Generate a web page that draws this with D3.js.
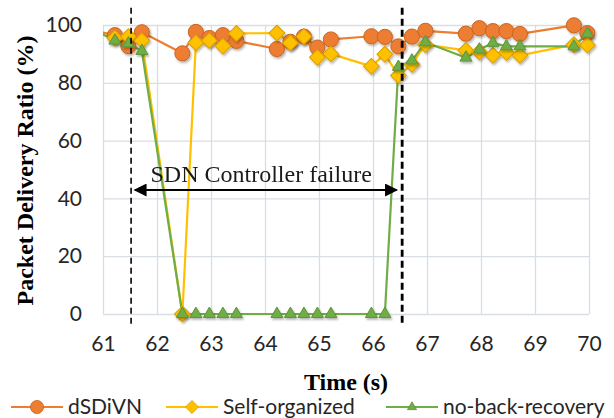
<!DOCTYPE html>
<html>
<head>
<meta charset="utf-8">
<script src="https://cdn.jsdelivr.net/npm/d3@7"></script>
<style>
  html, body { margin: 0; padding: 0; background: #fff; }
  svg { display: block; }
</style>
</head>
<body>
<svg id="chart" width="614" height="418"></svg>
<script>
// ---- data ----
const times = [60.97, 61.22, 61.47, 61.72, 62.47, 62.72, 62.97, 63.22, 63.47, 64.22, 64.47, 64.72, 64.97, 65.22, 65.97, 66.22, 66.47, 66.72, 66.97, 67.72, 67.97, 68.22, 68.47, 68.72, 69.72, 69.97];
const dSDiVN = [97.5, 96.5, 92.7, 97.5, 90.2, 97.6, 95.5, 96.5, 94.5, 91.7, 94.2, 96.0, 92.2, 95.0, 96.1, 95.9, 92.6, 96.0, 98.0, 97.0, 98.9, 97.9, 97.9, 96.9, 99.9, 97.2];
const selfOrganized = [97.0, 95.5, 96.0, 94.6, 0, 93.9, 94.6, 92.7, 97.1, 97.2, 93.8, 96.0, 88.8, 90.0, 85.7, 89.9, 82.5, 86.4, 93.2, 91.2, 90.7, 89.5, 90.5, 89.5, 93.2, 93.1];
const noBackRecovery = [97.0, 94.6, 93.6, 91.0, 0, 0, 0, 0, 0, 0, 0, 0, 0, 0, 0, 0, 85.5, 87.7, 94.0, 88.7, 91.5, 93.8, 92.6, 92.6, 92.6, 97.0];
const seriesNames = ["dSDiVN", "Self-organized", "no-back-recovery"];
const xTicks = [61, 62, 63, 64, 65, 66, 67, 68, 69, 70];
const yTicks = [0, 20, 40, 60, 80, 100];
const failureBounds = [61.52, 66.54];   // dashed markers (s)
const arrowSpan = [61.59, 66.44];       // double arrow (s)
const arrowLevel = 42.9;                // arrow height (%)
const annotationText = "SDN Controller failure";
const annotationAt = [61.88, 45.8];     // text start (s, %)
const xTitle = "Time (s)";
const yTitle = "Packet Delivery Ratio (%)";

(function () {
// ---- layout ----
const svg = d3.select("#chart");
const pL = 103, pR = 589, pT = 25, pB = 314;
const x = d3.scaleLinear().domain([61, 70]).range([pL, pR]);
const y = d3.scaleLinear().domain([0, 100]).range([pB, pT]);
const tickFont = "Lato, 'Open Sans', sans-serif";
const serif = "'Liberation Serif', 'Times New Roman', serif";
const colors = ["#ED7D31", "#FFC000", "#70AD47"];
const strokes = ["#C9631F", "#D9A000", "#5A9538"];

const defs = svg.append("defs");
defs.append("clipPath").attr("id", "plotClip")
  .append("rect").attr("x", pL).attr("y", 0).attr("width", pR - pL).attr("height", 418);
const sh = defs.append("filter").attr("id", "shadow").attr("x", "-50%").attr("y", "-50%").attr("width", "200%").attr("height", "200%");
sh.append("feDropShadow").attr("dx", 1.2).attr("dy", 1.8).attr("stdDeviation", 1.3)
  .attr("flood-color", "#000").attr("flood-opacity", 0.3);
const ah = defs.append("marker").attr("id", "arrowHead")
  .attr("viewBox", "0 0 10 10").attr("refX", 9).attr("refY", 5)
  .attr("markerWidth", 16).attr("markerHeight", 13).attr("markerUnits", "userSpaceOnUse")
  .attr("orient", "auto-start-reverse");
ah.append("path").attr("d", "M0,0 L10,5 L0,10 Z").attr("fill", "#000");

// grid + axes
const gx = svg.append("g").attr("transform", `translate(0,${pB})`)
  .call(d3.axisBottom(x).tickValues(xTicks).tickFormat(d3.format("d"))
    .tickSize(-(pB - pT)).tickPadding(22));
gx.select(".domain").remove();
gx.selectAll(".tick line").attr("stroke", "#D9DDE4").attr("stroke-width", 1.3);
gx.selectAll(".tick text").attr("font-family", tickFont).attr("font-size", 21).attr("fill", "#262626");

const gy = svg.append("g").attr("transform", `translate(${pL},0)`)
  .call(d3.axisLeft(y).tickValues(yTicks).tickFormat(d3.format("d"))
    .tickSize(-(pR - pL)).tickPadding(21));
gy.select(".domain").remove();
gy.selectAll(".tick line").attr("stroke", "#D9DDE4").attr("stroke-width", 1.3);
gy.selectAll(".tick text").attr("font-family", tickFont).attr("font-size", 21).attr("fill", "#262626");

// axis titles
svg.append("text").attr("x", (pL + pR) / 2).attr("y", 390)
  .attr("text-anchor", "middle").attr("font-family", serif)
  .attr("font-weight", "bold").attr("font-size", 24).attr("fill", "#000").text(xTitle);
svg.append("text").attr("transform", `translate(33,${(pT + pB) / 2 + 1}) rotate(-90)`)
  .attr("text-anchor", "middle").attr("font-family", serif)
  .attr("font-weight", "bold").attr("font-size", 24).attr("fill", "#000").text(yTitle);

// series
const seriesData = [dSDiVN, selfOrganized, noBackRecovery].map((vals, i) => ({
  name: seriesNames[i], color: colors[i], stroke: strokes[i],
  points: times.map((t, j) => ({ t, v: vals[j] }))
}));

const shapes = [
  { d: d3.symbol().type(d3.symbolCircle).size(180)(), rot: 0 },
  { d: d3.symbol().type(d3.symbolSquare).size(125)(), rot: 45 },
  { d: d3.symbol().type(d3.symbolTriangle).size(62)(), rot: 0 }
];

const line = d3.line().x(d => x(d.t)).y(d => y(d.v));
const plot = svg.append("g").attr("clip-path", "url(#plotClip)");

seriesData.forEach((s, i) => {
  plot.append("path").datum(s.points).attr("d", line)
    .attr("fill", "none").attr("stroke", s.color).attr("stroke-width", 2.2)
    .attr("stroke-linejoin", "round");
  svg.append("g").attr("filter", "url(#shadow)")
    .selectAll("path").data(s.points.filter(p => p.t >= 61 && p.t <= 70)).join("path")
    .attr("d", shapes[i].d)
    .attr("transform", p => `translate(${x(p.t)},${y(p.v)}) rotate(${shapes[i].rot})`)
    .attr("fill", s.color).attr("stroke", s.stroke).attr("stroke-width", 1);
});

// failure markers
svg.selectAll(".vline").data(failureBounds).join("line").attr("class", "vline")
  .attr("x1", d => x(d)).attr("x2", d => x(d))
  .attr("y1", y(106)).attr("y2", y(-4))
  .attr("stroke", "#000").attr("stroke-width", (d, i) => i === 0 ? 1.6 : 2.8)
  .attr("stroke-dasharray", (d, i) => i === 0 ? "6,4" : "7,4");

// annotation
svg.append("line")
  .attr("x1", x(arrowSpan[0])).attr("x2", x(arrowSpan[1]))
  .attr("y1", y(arrowLevel)).attr("y2", y(arrowLevel))
  .attr("stroke", "#000").attr("stroke-width", 2)
  .attr("marker-start", "url(#arrowHead)").attr("marker-end", "url(#arrowHead)");
svg.append("text").attr("x", x(annotationAt[0])).attr("y", y(annotationAt[1]))
  .attr("font-family", serif)
  .attr("font-size", 24).attr("fill", "#1a1a1a").text(annotationText);

// legend
const legendX = [11, 166, 386];
const legendY = 407;
const legendShapes = [
  d3.symbol().type(d3.symbolCircle).size(135)(),
  d3.symbol().type(d3.symbolSquare).size(85)(),
  d3.symbol().type(d3.symbolTriangle).size(36)()
];
seriesData.forEach((s, i) => {
  const g = svg.append("g").attr("transform", `translate(${legendX[i]},${legendY})`);
  g.append("line").attr("x1", 0).attr("x2", 52).attr("y1", 0).attr("y2", 0)
    .attr("stroke", s.color).attr("stroke-width", 2);
  g.append("path").attr("d", legendShapes[i])
    .attr("transform", `translate(26,0) rotate(${shapes[i].rot})`)
    .attr("fill", s.color).attr("stroke", s.stroke).attr("stroke-width", 0.8);
  g.append("text").attr("x", 57).attr("y", 0).attr("dy", "0.35em")
    .attr("font-family", tickFont).attr("font-size", 21).attr("fill", "#262626").text(s.name);
});
})();
</script>
</body>
</html>
